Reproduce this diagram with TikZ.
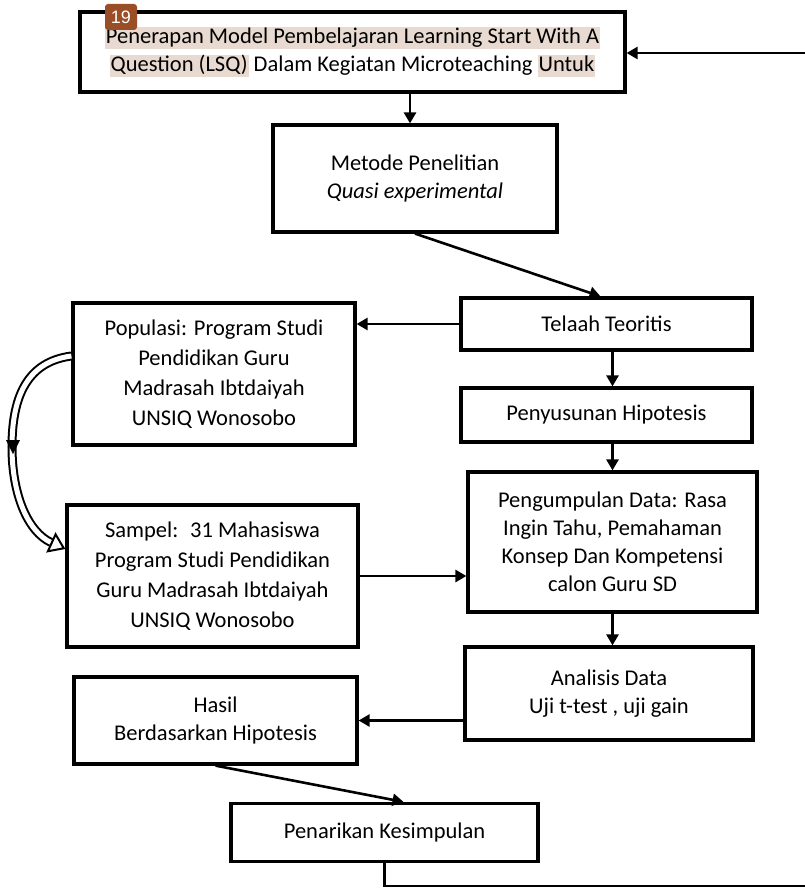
\documentclass[tikz,border=0pt]{standalone}
\usepackage{fontspec}
\setmainfont{Carlito}
\setsansfont{Liberation Sans}
\usetikzlibrary{arrows.meta}
\usetikzlibrary{calc}
\definecolor{hlcol}{RGB}{232,218,208}
\definecolor{badgecol}{RGB}{153,78,40}
\newcommand{\hlt}[1]{{\setlength{\fboxsep}{1pt}\colorbox{hlcol}{\vphantom{Qy}#1}}}

\begin{document}
\begin{tikzpicture}[x=1pt, y=-1pt,
  box/.style={draw, line width=3.2pt, align=center, inner sep=0pt,
    font=\fontsize{22.5}{28}\selectfont},
  arr/.style={line width=2.6pt, -{Triangle[length=11pt,width=12pt]}}]

\useasboundingbox (0,0) rectangle (805,888);

\node[box, minimum width=545pt, minimum height=80pt] (topic) at (352.5,52)
  {\hlt{Penerapan Model Pembelajaran Learning Start With A}\\
   \hlt{Question (LSQ)} Dalam Kegiatan Microteaching \hlt{Untuk}};
\node[fill=badgecol, rounded corners=3pt, text=white, inner sep=0pt,
  minimum width=32pt, minimum height=26pt,
  font=\sffamily\fontsize{18}{18}\selectfont] (badge) at (121,17) {19};

\node[box, minimum width=284pt, minimum height=107pt] (metode) at (415,178.5)
  {Metode Penelitian\\ \textit{Quasi experimental}};

\node[box, minimum width=291pt, minimum height=52pt] (telaah) at (606.5,324) {Telaah Teoritis};
\node[box, minimum width=291pt, minimum height=54pt] (penyusunan) at (606.5,415) {Penyusunan Hipotesis};
\node[box, minimum width=289pt, minimum height=140pt] (pengumpulan) at (612.5,542)
  {Pengumpulan Data: Rasa\\ Ingin Tahu, Pemahaman\\ Konsep Dan Kompetensi\\ calon Guru SD};
\node[box, minimum width=288pt, minimum height=93pt] (analisis) at (609,693.5)
  {Analisis Data\\ Uji t-test , uji gain};

\node[box, minimum width=282pt, minimum height=142pt,
  font=\fontsize{22.5}{30}\selectfont] (populasi) at (214,374)
  {Populasi: Program Studi\\ Pendidikan Guru\\ Madrasah Ibtdaiyah\\ UNSIQ Wonosobo};
\node[box, minimum width=291pt, minimum height=142pt,
  font=\fontsize{22.5}{30}\selectfont] (sampel) at (212.5,576)
  {Sampel:~ 31 Mahasiswa\\ Program Studi Pendidikan\\ Guru Madrasah Ibtdaiyah\\ UNSIQ Wonosobo};
\node[box, minimum width=283pt, minimum height=87pt] (hasil) at (215.5,720.5)
  {Hasil\\ Berdasarkan Hipotesis};
\node[box, minimum width=307pt, minimum height=58pt] (penarikan) at (384.5,832.5)
  {Penarikan Kesimpulan};

% alur utama
\draw[arr] ([xshift=-5pt]metode.north |- topic.south) -- ([xshift=-5pt]metode.north);
\draw[arr] (metode.south) -- ([xshift=-6pt]telaah.north);
\draw[arr] (telaah.west) -- (telaah.west -| populasi.east);
\draw[arr] (telaah.south -| pengumpulan.north) -- (penyusunan.north -| pengumpulan.north);
\draw[arr] (penyusunan.south -| pengumpulan.north) -- (pengumpulan.north);
\draw[arr] (sampel.east) -- (sampel.east -| pengumpulan.west);
\draw[arr] (pengumpulan.south) -- (analisis.north -| pengumpulan.south);
\draw[arr] (hasil.east -| analisis.west) -- (hasil.east);
\draw[arr] (hasil.south) -- ([xshift=19pt]penarikan.north);

% umpan balik
\coordinate (loopR) at (805,886);
\coordinate (loopT) at (805,53);
\draw[line width=2.6pt] (penarikan.south) -- (penarikan.south |- loopR) -- (loopR);
\draw[arr] (loopT) -- (loopT -| topic.east);

% panah lengkung populasi ke sampel
\draw[double=white, double distance=5pt, line width=2pt,
  -{Triangle[open, length=16pt, width=22pt, line width=2pt]}]
  ([yshift=18pt]populasi.west) .. controls (25,362) and (12,400) .. (12,447)
  .. controls (12,495) and (28,532) .. ([yshift=27pt]sampel.west);
\fill (6,440) -- (20,440) -- (13,454) -- cycle;

\end{tikzpicture}
\end{document}
